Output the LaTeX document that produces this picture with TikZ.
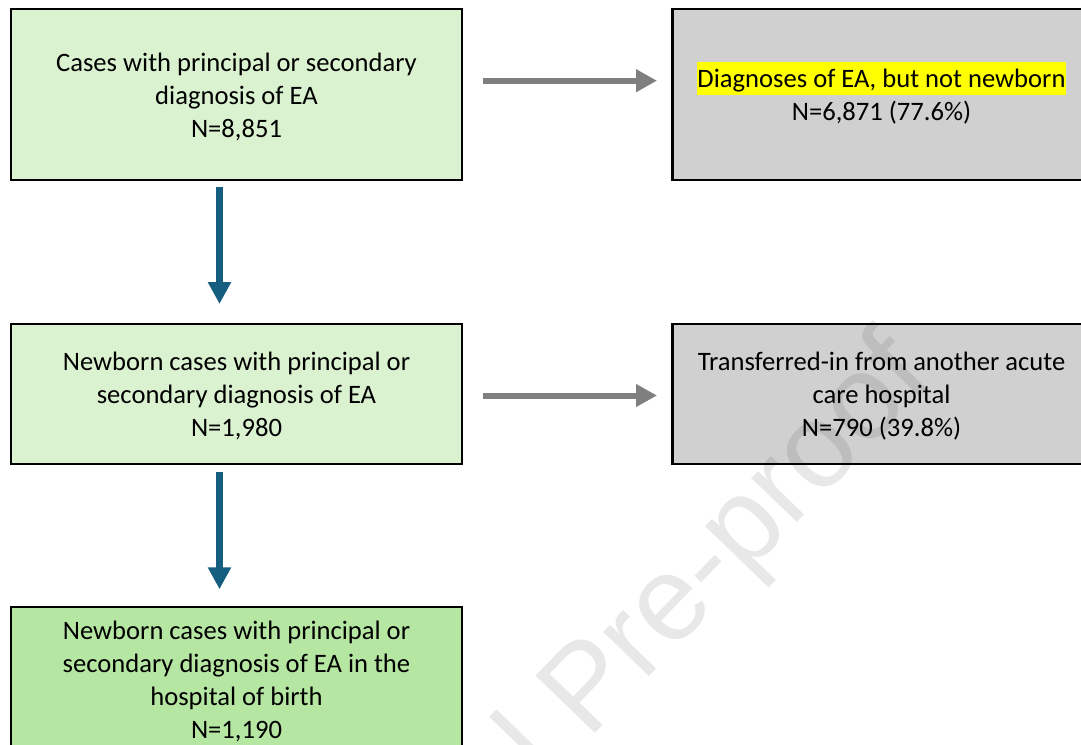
\documentclass[tikz,border=0pt]{standalone}
\usepackage{fontspec}
\setmainfont{Carlito}
\newfontfamily\wmfont{Liberation Sans}
\usetikzlibrary{arrows.meta}
\definecolor{lightgreen}{HTML}{DAF2D0}
\definecolor{darkgreen}{HTML}{B5E6A2}
\definecolor{boxgrey}{HTML}{D0D0D0}
\definecolor{arrowgrey}{HTML}{7F7F7F}
\definecolor{arrowblue}{RGB}{22,94,128}
\definecolor{hlyellow}{HTML}{FFFF00}
\newcommand{\topstrut}{\rule{0pt}{14.25pt}}
\newcommand{\botstrut}{\rule[-4.75pt]{0pt}{4.75pt}}
\newcommand{\hlstrut}{\rule[-3.9pt]{0pt}{16.6pt}}
\tikzset{
  flowbox/.style={draw=black, line width=1.2pt, rectangle, outer sep=0pt, inner sep=0pt,
    align=center, font=\fontsize{13.3}{16.5}\selectfont, text=black},
  greenbox/.style={flowbox, fill=lightgreen, minimum width=225.5pt},
  finalbox/.style={flowbox, fill=darkgreen, minimum width=225.5pt},
  greybox/.style={flowbox, fill=boxgrey, minimum width=209pt},
  greyarrow/.style={draw=arrowgrey, line width=3pt, -{Triangle[width=10.8pt,length=10.5pt]}},
  bluearrow/.style={draw=arrowblue, line width=3.7pt, -{Triangle[width=11pt,length=11pt]}},
  watermark/.style={font=\wmfont\fontsize{60}{66}\selectfont, text=black, text opacity=0.09, inner sep=0pt, outer sep=0pt, rotate=46}
}
\begin{document}
\begin{tikzpicture}[x=0.5pt,y=-0.5pt]
\useasboundingbox (0,0) rectangle (1081,744);
\fill[white] (0,0) rectangle (1081,744);
\clip (0,0) rectangle (1081,744);

\node[greenbox, minimum height=85.5pt] (b1) at (236.5,94.5)
  {\topstrut Cases with principal or secondary\\ diagnosis of EA\\ N=8,851\botstrut};
\node[greybox, minimum height=85.5pt] (b2) at (881.5,94.5)
  {\topstrut{\setlength{\fboxsep}{0pt}\colorbox{hlyellow}{\hlstrut Diagnoses of EA, but not newborn}}\\ N=6,871 (77.6\%)\botstrut};
\node[greenbox, minimum height=70pt] (b3) at (236.5,394)
  {\topstrut Newborn cases with principal or\\ secondary diagnosis of EA\\ N=1,980\botstrut};
\node[greybox, minimum height=70pt] (b4) at (881.5,394)
  {\topstrut Transferred-in from another acute\\ care hospital\\ N=790 (39.8\%)\botstrut};
\node[finalbox, minimum height=71.75pt] (b5) at (236.5,679)
  {\topstrut Newborn cases with principal or\\ secondary diagnosis of EA in the\\ hospital of birth\\ N=1,190\botstrut};

\draw[greyarrow, shorten <=10.5pt, shorten >=7.75pt] ([yshift=6.9pt]b1.east) -- ([yshift=6.9pt]b2.west);
\draw[greyarrow, shorten <=10.5pt, shorten >=7.75pt] ([yshift=-0.75pt]b3.east) -- ([yshift=-0.75pt]b4.west);
\draw[bluearrow, shorten <=3.5pt, shorten >=10pt] ([xshift=-8.5pt]b1.south) -- ([xshift=-8.5pt]b3.north);
\draw[bluearrow, shorten <=4pt, shorten >=9pt] ([xshift=-8.5pt]b3.south) -- ([xshift=-8.5pt]b5.north);

\node[watermark, anchor=base west] (wm1) at (588,740) {Pre-proof};
\node[watermark, anchor=base east] (wm2) at (wm1.base west) {Journal\kern0.28em};
\end{tikzpicture}
\end{document}
